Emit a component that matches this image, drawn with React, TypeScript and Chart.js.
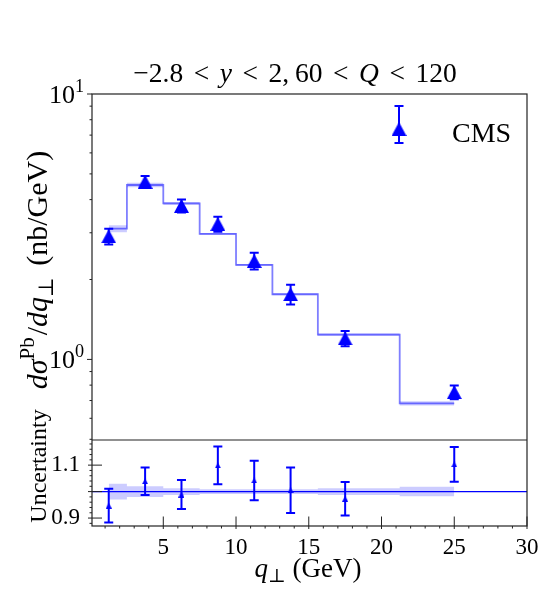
import React, { useEffect, useRef } from "react";
import { Chart, registerables } from "chart.js";

Chart.register(...registerables);

// ---------------- data ----------------
const qT = [1.25, 3.75, 6.25, 8.75, 11.25, 13.75, 17.5, 25];
const cmsValues = [2.91, 4.67, 3.79, 3.24, 2.35, 1.76, 1.2, 0.753];
const cmsErrors = [0.2, 0.24, 0.21, 0.21, 0.17, 0.15, 0.08, 0.045];
const theoryValues = [3.11, 4.54, 3.87, 2.97, 2.27, 1.76, 1.24, 0.683];
const theoryRelUnc = [0.03, 0.02, 0.0125, 0.009, 0.009, 0.009, 0.0125, 0.018];
const ratioValues = [0.947, 1.039, 0.989, 1.099, 1.042, 1.005, 0.973, 1.103];
const ratioErrors = [0.064, 0.052, 0.055, 0.071, 0.075, 0.086, 0.063, 0.066];

const xTicks = [5, 10, 15, 20, 25, 30];
const topYTicks = [1, 10];
const bottomYTicks = [0.9, 1.0, 1.1];

const X_MIN = 0.1;
const X_MAX = 30;
const TOP_MIN = 0.497;
const TOP_MAX = 10;
const BOT_MIN = 0.87;
const BOT_MAX = 1.195;

const SERIF = '"Liberation Serif", "DejaVu Serif", serif';
const BLUE = "#0000ff";

function makeTriangle(w: number, h: number) {
  const c = document.createElement("canvas");
  c.width = w;
  c.height = h;
  const g = c.getContext("2d")!;
  g.fillStyle = BLUE;
  g.beginPath();
  g.moveTo(w / 2, 0);
  g.lineTo(w, h);
  g.lineTo(0, h);
  g.closePath();
  g.fill();
  return c;
}

type Seg = { t?: string; it?: boolean; s?: number; dy?: number; w?: number };

function drawRich(
  ctx: CanvasRenderingContext2D,
  segs: Seg[],
  x: number,
  y: number,
  size: number,
  rot = 0,
  align: "center" | "left" | "right" = "center"
) {
  ctx.save();
  ctx.translate(x, y);
  ctx.rotate(rot);
  ctx.textBaseline = "alphabetic";
  ctx.textAlign = "left";
  ctx.fillStyle = "#000";
  const fonts = segs.map(
    (sg) => `${sg.it ? "italic " : ""}${(size * (sg.s ?? 1)).toFixed(1)}px ${SERIF}`
  );
  const widths = segs.map((sg, i) => {
    if (sg.w !== undefined) return sg.w;
    ctx.font = fonts[i];
    return ctx.measureText(sg.t ?? "").width;
  });
  const total = widths.reduce((a, b) => a + b, 0);
  let cx = align === "center" ? -total / 2 : align === "right" ? -total : 0;
  segs.forEach((sg, i) => {
    if (sg.t) {
      ctx.font = fonts[i];
      ctx.fillText(sg.t, cx, (sg.dy ?? 0) * size);
    }
    cx += widths[i];
  });
  ctx.restore();
}

const errorBarPlugin = {
  id: "errbars",
  beforeDatasetDraw(chart: any, args: any) {
    const ds = chart.data.datasets[args.index];
    if (!ds.errors) return;
    const xs = chart.scales.x;
    const ys = chart.scales[ds.yAxisID];
    const ctx = chart.ctx as CanvasRenderingContext2D;
    const cap = ds.capHalf;
    ctx.save();
    ctx.strokeStyle = BLUE;
    ctx.lineWidth = ds.errWidth;
    ds.data.forEach((p: any, i: number) => {
      const e = ds.errors[i];
      const px = xs.getPixelForValue(p.x);
      const y1 = ys.getPixelForValue(p.y + e);
      const y0 = ys.getPixelForValue(p.y - e);
      ctx.beginPath();
      ctx.moveTo(px, y0);
      ctx.lineTo(px, y1);
      ctx.moveTo(px - cap, y0);
      ctx.lineTo(px + cap, y0);
      ctx.moveTo(px - cap, y1);
      ctx.lineTo(px + cap, y1);
      ctx.stroke();
    });
    ctx.restore();
  },
};

function makeDecorPlugin(legendTri: HTMLCanvasElement) {
  return {
    id: "decor",
    afterDraw(chart: any) {
      const ctx = chart.ctx as CanvasRenderingContext2D;
      const { x, y, y2 } = chart.scales;
      const ca = chart.chartArea;
      const L = ca.left, R = ca.right, T = ca.top, B = ca.bottom;
      const S = y.bottom;
      ctx.save();
      ctx.strokeStyle = "#222";
      ctx.lineWidth = 1.2;
      ctx.strokeRect(L, T, R - L, B - T);
      ctx.beginPath();
      ctx.moveTo(L, S);
      ctx.lineTo(R, S);
      ctx.stroke();

      ctx.lineWidth = 1;
      const hTick = (yy: number, out: number, inn: number) => {
        ctx.beginPath();
        ctx.moveTo(L - out, yy);
        ctx.lineTo(L + inn, yy);
        ctx.stroke();
      };
      const vTick = (xx: number, out: number, inn: number) => {
        ctx.beginPath();
        ctx.moveTo(xx, B + out);
        ctx.lineTo(xx, B - inn);
        ctx.stroke();
      };
      // top panel (log) ticks
      for (const d of [0.1, 1]) {
        for (let k = 2; k <= 9; k++) {
          const v = k * d;
          if (v >= TOP_MIN && v <= TOP_MAX) hTick(y.getPixelForValue(v), 2.5, 0);
        }
      }
      topYTicks.forEach((v) => hTick(y.getPixelForValue(v), 5, 0));
      // bottom panel ticks
      for (let k = 0; k <= 20; k++) {
        const v = Math.round((0.86 + k * 0.02) * 100) / 100;
        if (v > BOT_MIN && v < BOT_MAX && !bottomYTicks.some((t) => Math.abs(t - v) < 1e-6))
          hTick(y2.getPixelForValue(v), 2.5, 0);
      }
      bottomYTicks.forEach((v) => hTick(y2.getPixelForValue(v), 4, 10));
      // x ticks
      for (let k = 1; k < 30; k++) {
        if (k % 5 !== 0) vTick(x.getPixelForValue(k), 2.5, 0);
      }
      xTicks.forEach((v) => vTick(x.getPixelForValue(v), 3, 9.5));

      // top y tick labels (10^n)
      topYTicks.forEach((v) => {
        const py = y.getPixelForValue(v);
        const ex = String(Math.round(Math.log10(v)));
        drawRich(ctx, [{ t: "10" }, { t: ex, s: 0.7, dy: -0.42 }], L - 8, py + 9, 26, 0, "right");
      });

      // title
      const g = { w: 10.5 };
      drawRich(
        ctx,
        [
          { t: "\u22122.8" },
          g,
          { t: "<" },
          g,
          { t: "y", it: true },
          g,
          { t: "<" },
          g,
          { t: "2," },
          { w: 6 },
          { t: "60" },
          g,
          { t: "<" },
          g,
          { t: "Q", it: true },
          g,
          { t: "<" },
          g,
          { t: "120" },
        ],
        295,
        82,
        27.5
      );
      // x label
      drawRich(
        ctx,
        [{ t: "q", it: true }, { t: "\u22a5", s: 0.7, dy: 0.2 }, { t: " (GeV)" }],
        308,
        577,
        27
      );
      // y labels
      drawRich(
        ctx,
        [
          { t: "d\u03c3", it: true },
          { t: "Pb", s: 0.7, dy: -0.42 },
          { w: 2 },
          { t: "/" },
          { t: "dq", it: true },
          { t: "\u22a5", s: 0.7, dy: 0.2 },
          { w: 4 },
          { t: " (nb/GeV)" },
        ],
        47,
        270,
        30,
        -Math.PI / 2
      );
      drawRich(ctx, [{ t: "Uncertainty" }], 46, 466, 24, -Math.PI / 2);

      // legend
      const lx = 399, ly = 129;
      ctx.strokeStyle = BLUE;
      ctx.lineWidth = 2;
      ctx.beginPath();
      ctx.moveTo(lx, 106);
      ctx.lineTo(lx, 143);
      ctx.moveTo(lx - 4.5, 106);
      ctx.lineTo(lx + 4.5, 106);
      ctx.moveTo(lx - 4.5, 143);
      ctx.lineTo(lx + 4.5, 143);
      ctx.stroke();
      ctx.drawImage(legendTri, lx - legendTri.width / 2, ly - legendTri.height / 2);
      drawRich(ctx, [{ t: "CMS" }], 452, 141.5, 28, 0, "left");
      ctx.restore();
    },
  };
}

export default function App() {
  const ref = useRef<HTMLCanvasElement | null>(null);
  useEffect(() => {
    if (!ref.current) return;
    const triBig = makeTriangle(15, 14);
    const triSmall = makeTriangle(6, 6);
    const topPoints = qT.map((q, i) => ({ x: q, y: cmsValues[i] }));
    const ratioPoints = qT.map((q, i) => ({ x: q, y: ratioValues[i] }));
    const theoryLine = qT.map((q, i) => ({ x: q, y: theoryValues[i] }));
    const theoryUp = qT.map((q, i) => ({ x: q, y: theoryValues[i] * (1 + theoryRelUnc[i]) }));
    const theoryDn = qT.map((q, i) => ({ x: q, y: theoryValues[i] * (1 - theoryRelUnc[i]) }));
    const ratioUp = qT.map((q, i) => ({ x: q, y: 1 + theoryRelUnc[i] }));
    const ratioDn = qT.map((q, i) => ({ x: q, y: 1 - theoryRelUnc[i] }));

    const tickFont = { family: SERIF, size: 23 };
    const chart = new Chart(ref.current, {
      type: "line",
      data: {
        datasets: [
          {
            label: "CMS",
            data: topPoints,
            yAxisID: "y",
            showLine: false,
            pointStyle: triBig as any,
            pointRadius: 5,
            errors: cmsErrors,
            errWidth: 2,
            capHalf: 4.5,
          } as any,
          {
            label: "ratio",
            data: ratioPoints,
            yAxisID: "y2",
            showLine: false,
            pointStyle: triSmall as any,
            pointRadius: 3,
            errors: ratioErrors,
            errWidth: 2,
            capHalf: 4.5,
          } as any,
          {
            label: "theory",
            data: theoryLine,
            yAxisID: "y",
            stepped: "middle",
            borderColor: "rgba(0,0,255,0.5)",
            borderWidth: 1.8,
            pointRadius: 0,
            fill: false,
          },
          {
            label: "unity",
            data: [
              { x: X_MIN, y: 1 },
              { x: X_MAX, y: 1 },
            ],
            yAxisID: "y2",
            borderColor: BLUE,
            borderWidth: 1.4,
            pointRadius: 0,
            fill: false,
          },
          {
            label: "ratioUp",
            data: ratioUp,
            yAxisID: "y2",
            stepped: "middle",
            borderWidth: 0,
            borderColor: "rgba(0,0,0,0)",
            pointRadius: 0,
            fill: false,
          },
          {
            label: "ratioDn",
            data: ratioDn,
            yAxisID: "y2",
            stepped: "middle",
            borderWidth: 0,
            borderColor: "rgba(0,0,0,0)",
            backgroundColor: "rgba(0,0,255,0.2)",
            pointRadius: 0,
            fill: "-1",
          },
          {
            label: "theoryUp",
            data: theoryUp,
            yAxisID: "y",
            stepped: "middle",
            borderWidth: 0,
            borderColor: "rgba(0,0,0,0)",
            pointRadius: 0,
            fill: false,
          },
          {
            label: "theoryDn",
            data: theoryDn,
            yAxisID: "y",
            stepped: "middle",
            borderWidth: 0,
            borderColor: "rgba(0,0,0,0)",
            backgroundColor: "rgba(0,0,255,0.2)",
            pointRadius: 0,
            fill: "-1",
          },
        ],
      },
      options: {
        animation: false,
        responsive: false,
        devicePixelRatio: 1,
        events: [],
        layout: { padding: { top: 94, right: 15, left: 0, bottom: 0 } },
        plugins: {
          legend: { display: false },
          tooltip: { enabled: false },
          title: { display: false },
        },
        scales: {
          x: {
            type: "linear",
            position: "bottom",
            min: X_MIN,
            max: X_MAX,
            grid: { display: false, drawTicks: false },
            border: { display: false },
            afterBuildTicks: (s: any) => {
              s.ticks = xTicks.map((v) => ({ value: v }));
            },
            afterFit: (s: any) => {
              s.height = 67;
              s.paddingLeft = 0;
              s.paddingRight = 0;
            },
            ticks: {
              font: tickFont,
              color: "#000",
              padding: 8,
              maxRotation: 0,
              autoSkip: false,
              callback: (v: any) => String(v),
            },
          },
          y: {
            type: "logarithmic",
            position: "left",
            stack: "panels",
            stackWeight: 346,
            weight: 2,
            min: TOP_MIN,
            max: TOP_MAX,
            grid: { display: false, drawTicks: false },
            border: { display: false },
            afterBuildTicks: (s: any) => {
              s.ticks = topYTicks.map((v) => ({ value: v }));
            },
            afterFit: (s: any) => {
              s.width = 92;
              s.paddingTop = 0;
              s.paddingBottom = 0;
            },
            ticks: { display: false },
          },
          y2: {
            type: "linear",
            position: "left",
            stack: "panels",
            stackWeight: 86,
            weight: 1,
            min: BOT_MIN,
            max: BOT_MAX,
            grid: { display: false, drawTicks: false },
            border: { display: false },
            afterBuildTicks: (s: any) => {
              s.ticks = bottomYTicks.map((v) => ({ value: v }));
            },
            afterFit: (s: any) => {
              s.width = 92;
              s.paddingTop = 0;
              s.paddingBottom = 0;
            },
            ticks: {
              font: tickFont,
              color: "#000",
              padding: 12,
              callback: (v: any) => Number(v).toFixed(1),
            },
          },
        },
      } as any,
      plugins: [errorBarPlugin as any, makeDecorPlugin(triBig) as any],
    });
    return () => chart.destroy();
  }, []);

  return (
    <div style={{ position: "fixed", left: 0, top: 0, width: 542, height: 593, background: "#fff" }}>
      <canvas ref={ref} width={542} height={593} style={{ display: "block" }} />
    </div>
  );
}
